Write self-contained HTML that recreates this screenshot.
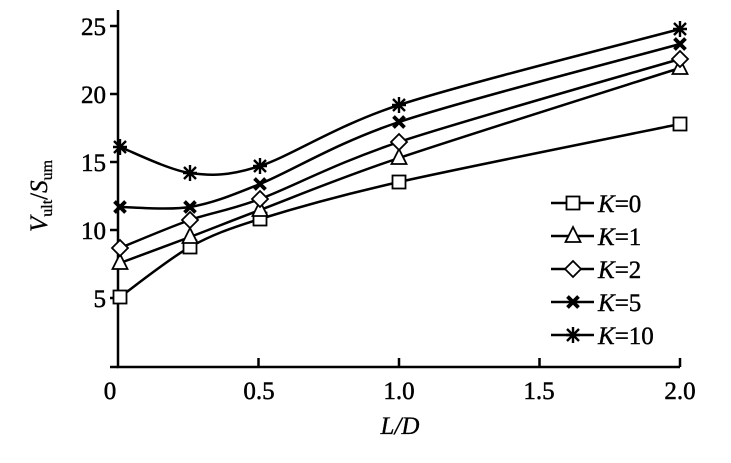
<!DOCTYPE html>
<html><head><meta charset="utf-8"><style>
html,body{margin:0;padding:0;background:#fff;}
svg{display:block;font-family:"Liberation Serif",serif;}
</style></head><body>
<svg id="s" width="731" height="463" viewBox="0 0 731 463" xmlns="http://www.w3.org/2000/svg">
<g stroke="#000" stroke-width="2.5" fill="none">
<path d="M118 10 V367 H680"/>
<path d="M118 367 H110 M118 298 H110 M118 230 H110 M118 162 H110 M118 94 H110 M118 26 H110"/>
<path d="M258.5 367 V358 M399 367 V358 M539.5 367 V358 M680 367 V358"/>
</g>
<g font-size="25" text-anchor="end" stroke="#000" stroke-width="0.5">
<text x="106" y="35">25</text><text x="106" y="103">20</text><text x="106" y="171">15</text><text x="106" y="239">10</text><text x="106" y="307">5</text>
</g>
<g font-size="25" text-anchor="middle" stroke="#000" stroke-width="0.5">
<text x="110" y="399">0</text><text x="259" y="399">0.5</text><text x="399" y="399">1.0</text><text x="539" y="399">1.5</text><text x="680" y="399">2.0</text>
<text x="400" y="434" font-style="italic" stroke-width="0.3">L/D</text>
</g>
<text transform="translate(47,196) rotate(-90)" font-size="25" text-anchor="middle" stroke="#000" stroke-width="0.3"><tspan font-style="italic">V</tspan><tspan font-size="16" dy="5">ult</tspan><tspan dy="-5">/</tspan><tspan font-style="italic">S</tspan><tspan font-size="16" dy="5">um</tspan></text>
<g id="series" stroke="#000" stroke-width="2.5" fill="none"></g>
<g id="marks"></g>
<g font-size="25" stroke="#000" stroke-width="0.4">
<text x="598" y="212"><tspan font-style="italic">K</tspan>=0</text>
<text x="598" y="245"><tspan font-style="italic">K</tspan>=1</text>
<text x="598" y="278"><tspan font-style="italic">K</tspan>=2</text>
<text x="598" y="311"><tspan font-style="italic">K</tspan>=5</text>
<text x="598" y="344"><tspan font-style="italic">K</tspan>=10</text>
</g>
</svg>
<script>
var xs=[120,190,260,399,680];
var data=[
 [297,247,219,182,124],
 [263,237,210,158,68],
 [248,220,199,142,59],
 [207,207,184,122,44],
 [147,173,166,105,29]];
var ns="http://www.w3.org/2000/svg";
var S=document.getElementById('series'),M=document.getElementById('marks');
function el(t,a,p){var e=document.createElementNS(ns,t);for(var k in a)e.setAttribute(k,a[k]);p.appendChild(e);return e;}
function marker(type,x,y){
 var st={stroke:"#000","stroke-width":"1.8",fill:"#fff"};
 if(type==0){el('rect',Object.assign({x:x-6.5,y:y-6.5,width:13,height:13},st),M);}
 else if(type==1){el('polygon',Object.assign({points:(x)+','+(y-9)+' '+(x-7.5)+','+(y+6)+' '+(x+7.5)+','+(y+6)},st),M);}
 else if(type==2){el('polygon',Object.assign({points:x+','+(y-8)+' '+(x+8)+','+y+' '+x+','+(y+8)+' '+(x-8)+','+y},st),M);}
 else if(type==3){el('path',{d:'M'+(x-5.5)+' '+(y-5.5)+'L'+(x+5.5)+' '+(y+5.5)+'M'+(x+5.5)+' '+(y-5.5)+'L'+(x-5.5)+' '+(y+5.5),stroke:"#000","stroke-width":"3.8"},M);}
 else {el('path',{d:'M'+(x-6)+' '+(y-6)+'L'+(x+6)+' '+(y+6)+'M'+(x+6)+' '+(y-6)+'L'+(x-6)+' '+(y+6)+'M'+x+' '+(y-8)+'V'+(y+8)+'M'+(x-7)+' '+y+'H'+(x+7),stroke:"#000","stroke-width":"2.4"},M);}
}
data.forEach(function(ys,k){
 var p=xs.map(function(x,i){return [x,ys[i]];});
 var d='M'+p[0][0]+' '+p[0][1];
 for(var i=0;i<p.length-1;i++){
  var p0=p[Math.max(0,i-1)],p1=p[i],p2=p[i+1],p3=p[Math.min(p.length-1,i+2)];
  var t=0.15;
  var c1x=p1[0]+(p2[0]-p0[0])*t,c1y=p1[1]+(p2[1]-p0[1])*t;
  var c2x=p2[0]-(p3[0]-p1[0])*t,c2y=p2[1]-(p3[1]-p1[1])*t;
  d+=' C'+c1x+' '+c1y+' '+c2x+' '+c2y+' '+p2[0]+' '+p2[1];
 }
 el('path',{d:d},S);
 p.forEach(function(q){marker(k,q[0],q[1]);});
 var ly=203+33*k;
 el('path',{d:'M551 '+ly+'H594'},S);
 marker(k,573,ly);
});
</script>
</body></html>
